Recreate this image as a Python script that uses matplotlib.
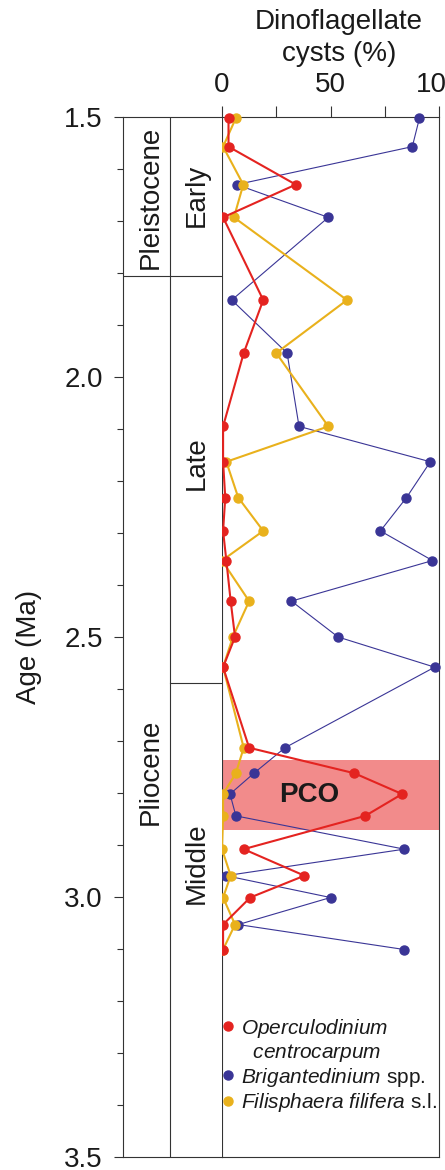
import matplotlib
matplotlib.use("Agg")
import matplotlib.pyplot as plt
from matplotlib.lines import Line2D
from matplotlib.ticker import MultipleLocator

plt.rcParams['font.family'] = ['Liberation Sans', 'DejaVu Sans']
plt.rcParams['mathtext.fontset'] = 'custom'
plt.rcParams['mathtext.rm'] = 'Liberation Sans'
plt.rcParams['mathtext.it'] = 'Liberation Sans:italic'

# sample ages (Ma) and percentages
ages = [1.502, 1.557, 1.630, 1.693, 1.852, 1.954, 2.095, 2.163, 2.232, 2.296,
        2.353, 2.431, 2.500, 2.558, 2.713, 2.762, 2.802, 2.844, 2.908, 2.959,
        3.001, 3.053, 3.101]
oper = [3, 3, 34, 0.5, 19, 10, 0.5, 0.5, 1.5, 0.5,
        2, 4, 6, 0.5, 12.5, 61, 83, 66, 10, 38,
        13, 0.5, 0.5]
brig = [91, 87.7, 6.8, 49, 4.5, 30, 35.5, 96, 85, 73,
        97, 32, 53.5, 98, 29, 14.7, 3.7, 6.4, 84, 1.8,
        50, 7.5, 84]
fili = [6.4, 0.5, 9.8, 5.5, 57.6, 25, 49, 2, 7.5, 19,
        0, 12.5, 5, 0.5, 10, 6.4, 0.5, 0.5, 0, 4,
        0.5, 6, 0.5]

epochs = ["Pleistocene", "Pliocene"]
epoch_mid = [1.655, 2.76]
epoch_bounds = [1.806]
stages = ["Early", "Late", "Middle"]
stage_mid = [1.65, 2.165, 2.935]
stage_bounds = [2.588]
pco = (2.737, 2.871)

RED = '#e42320'
BLUE = '#3a3596'
YEL = '#e9b11c'
LINE = '#333333'
TXT = '#1a1a1a'

W, H = 445, 1170
fig = plt.figure(figsize=(W / 100, H / 100), dpi=100)
bot = (H - 1157) / H
hgt = 1040 / H
ax = fig.add_axes([222 / W, bot, 217 / W, hgt])
strat = fig.add_axes([123 / W, bot, 99 / W, hgt], sharey=ax)

# PCO band
ax.axhspan(pco[0], pco[1], color='#f28b8b', lw=0, zorder=1)
ax.text(40, (pco[0] + pco[1]) / 2, "PCO", fontsize=20, fontweight='bold',
        ha='center', va='center', color=TXT, zorder=6)

ax.plot(brig, ages, '-o', color=BLUE, lw=0.8, ms=6.5, zorder=3, clip_on=False)
ax.plot(fili, ages, '-o', color=YEL, lw=1.5, ms=6.5, zorder=4, clip_on=False)
ax.plot(oper, ages, '-o', color=RED, lw=1.5, ms=6.5, zorder=5, clip_on=False)

ax.set_xlim(0, 100)
ax.set_ylim(3.5, 1.5)
ax.xaxis.tick_top()
ax.xaxis.set_major_locator(MultipleLocator(50))
ax.xaxis.set_minor_locator(MultipleLocator(25))
ax.tick_params(axis='x', which='both', length=8, width=0.8, color=LINE,
               labelsize=20, pad=6, labelcolor=TXT)
ax.tick_params(axis='y', which='both', left=False, labelleft=False)
for s in ax.spines.values():
    s.set_color(LINE)
    s.set_linewidth(0.8)

ax.xaxis.set_label_position('top')
ax.set_xlabel("Dinoflagellate\ncysts (%)", fontsize=20, color=TXT,
              linespacing=1.3)
ax.xaxis.label.set_verticalalignment('center')
ax.xaxis.set_label_coords(0.54, 1.076)

# stratigraphic columns
strat.set_xlim(0, 1)
strat.set_xticks([])
strat.spines['right'].set_visible(False)
for s in ['left', 'top', 'bottom']:
    strat.spines[s].set_color(LINE)
    strat.spines[s].set_linewidth(0.8)
strat.axvline(0.475, color=LINE, lw=0.8)
for b in epoch_bounds:
    strat.axhline(b, color=LINE, lw=0.8)
for b in stage_bounds:
    strat.axhline(b, xmin=0.475, xmax=1, color=LINE, lw=0.8)
for name, y in zip(epochs, epoch_mid):
    strat.text(0.28, y, name, rotation=90, ha='center', va='center',
               fontsize=20, color=TXT)
for name, y in zip(stages, stage_mid):
    strat.text(0.745, y, name, rotation=90, ha='center', va='center',
               fontsize=20, color=TXT)

strat.yaxis.set_major_locator(MultipleLocator(0.5))
strat.yaxis.set_minor_locator(MultipleLocator(0.1))
strat.yaxis.set_major_formatter(lambda v, p: f"{v:.1f}")
strat.tick_params(axis='y', which='major', length=6.5, width=0.8, color=LINE,
                  labelsize=20, pad=8, labelcolor=TXT)
strat.tick_params(axis='y', which='minor', length=4.5, width=0.8, color=LINE)
strat.set_ylabel("Age (Ma)", fontsize=20, color=TXT)
strat.yaxis.set_label_coords(-0.82, 0.49)

handles = [
    Line2D([], [], ls='none', marker='o', ms=6.5, color=RED),
    Line2D([], [], ls='none', marker=''),
    Line2D([], [], ls='none', marker='o', ms=6.5, color=BLUE),
    Line2D([], [], ls='none', marker='o', ms=6.5, color=YEL),
]
labels = [r'$\it{Operculodinium}$',
          r'$\it{\ \ centrocarpum}$',
          r'$\it{Brigantedinium}$ spp.',
          r'$\it{Filisphaera\ filifera}$ s.l.']
leg = ax.legend(handles, labels, loc='upper left', bbox_to_anchor=(0.0, 0.135),
                frameon=False, fontsize=15, borderpad=0, borderaxespad=0,
                handlelength=0.6, handletextpad=0.32, labelspacing=0.1)
for t in leg.get_texts():
    t.set_color(TXT)

fig.savefig("out.png", dpi=100)
